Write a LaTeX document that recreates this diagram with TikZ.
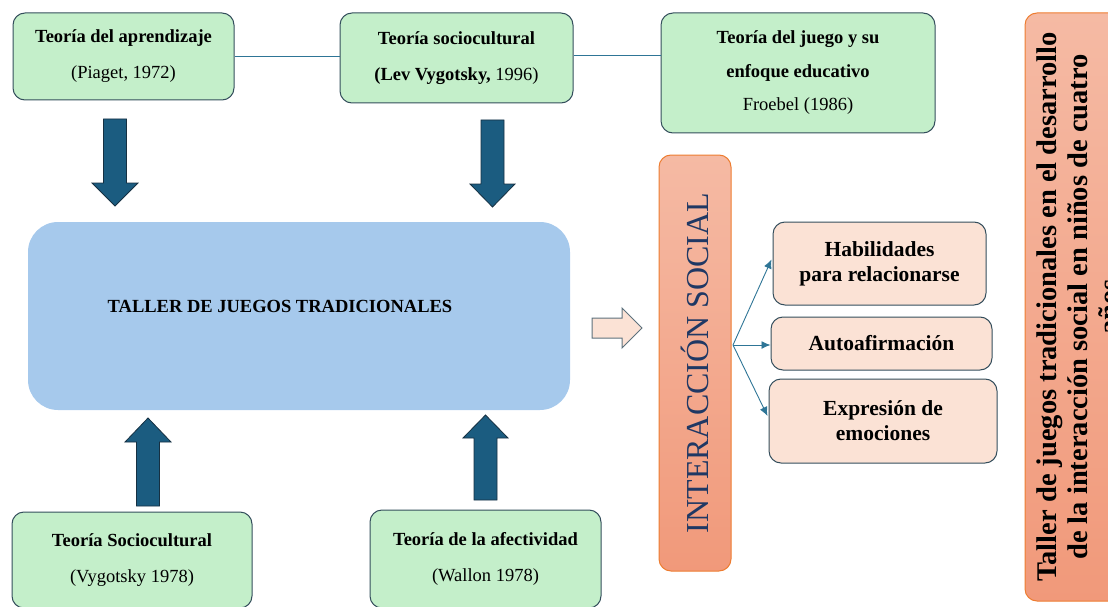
\documentclass[tikz,border=0pt]{standalone}
\usepackage{fontspec}
\setmainfont{Liberation Serif}
\usetikzlibrary{calc,arrows.meta}
\definecolor{gfill}{RGB}{196,239,202}
\definecolor{bdr}{RGB}{52,78,92}
\definecolor{bfill}{RGB}{166,201,236}
\definecolor{afill}{RGB}{27,92,128}
\definecolor{adraw}{RGB}{22,48,66}
\definecolor{pfill}{RGB}{251,226,213}
\definecolor{otop}{RGB}{245,186,164}
\definecolor{obot}{RGB}{241,153,122}
\definecolor{odraw}{RGB}{237,125,49}
\definecolor{navy}{RGB}{31,56,100}
\definecolor{lnk}{RGB}{46,117,150}
\begin{document}
\begin{tikzpicture}[x=1pt,y=-1pt,
  gbox/.style={draw=bdr, line width=1pt, fill=gfill, rounded corners=12pt, align=center, inner sep=0pt, font=\fontsize{18.5}{36}\selectfont},
  pbox/.style={draw=bdr, line width=1pt, fill=pfill, rounded corners=12pt, align=center, inner sep=0pt, font=\bfseries\fontsize{21.5}{25}\selectfont},
  obox/.style={draw=odraw, line width=1pt, top color=otop, bottom color=obot, rounded corners=12pt, inner sep=0pt},
  blockarrow/.style={fill=afill, draw=adraw, line width=0.8pt},
  hollow/.style={fill=pfill, draw=bdr!80, line width=1pt},
  link/.style={draw=lnk, line width=0.9pt},
  tiparrow/.style={draw=lnk, line width=0.9pt, -{Latex[length=9pt,width=8pt]}}
]
\useasboundingbox (0,0) rectangle (1108,607);
\clip (0,0) rectangle (1108,607);

% top boxes
\node[gbox, minimum width=221pt, minimum height=87pt] (b1) at (123.5,56.5)
  {\textbf{Teoría del aprendizaje}\\(Piaget, 1972)};
\node[gbox, minimum width=233pt, minimum height=90pt] (b2) at (456.5,58)
  {\textbf{Teoría sociocultural}\\\textbf{(Lev Vygotsky,} 1996)};
\node[gbox, minimum width=274pt, minimum height=120pt, font=\fontsize{18.5}{33.5}\selectfont] (b3) at (798,73)
  {\textbf{Teoría del juego y su}\\\textbf{enfoque educativo}\\Froebel (1986)};
\draw[link] (b1.east) -- (b1.east -| b2.west);
\coordinate (b2r) at ($(b2.east)+(0,-3)$);
\draw[link] (b2r) -- (b2r -| b3.west);

% main box
\node[fill=bfill, rounded corners=30pt, minimum width=542pt, minimum height=188pt, inner sep=0pt,
  font=\bfseries\fontsize{18.5}{22}\selectfont, text height=13pt, text depth=20pt] (main) at (299,316)
  {TALLER DE JUEGOS TRADICIONALES\hspace*{38pt}};

% bottom boxes
\node[gbox, minimum width=240pt, minimum height=96pt] (b4) at (132,560)
  {\textbf{Teoría Sociocultural}\\(Vygotsky 1978)};
\node[gbox, minimum width=231pt, minimum height=98pt] (b5) at (485.5,559)
  {\textbf{Teoría de la afectividad}\\(Wallon 1978)};

% block arrows down
\draw[blockarrow] (103.5,119) -- (126.5,119) -- (126.5,183) -- (138,183) -- (115,206) -- (92,183) -- (103.5,183) -- cycle;
\draw[blockarrow] (481,120) -- (504,120) -- (504,184) -- (515,184) -- (492.5,207) -- (470,184) -- (481,184) -- cycle;
% block arrows up
\draw[blockarrow] (136.5,506) -- (159.5,506) -- (159.5,442) -- (171,442) -- (148,418) -- (125,442) -- (136.5,442) -- cycle;
\draw[blockarrow] (474,500) -- (497,500) -- (497,438) -- (508,438) -- (485.5,415) -- (463,438) -- (474,438) -- cycle;

% hollow arrow
\draw[hollow] (592,318) -- (622,318) -- (622,308) -- (642,328) -- (622,348) -- (622,338) -- (592,338) -- cycle;

% interaccion social
\node[obox, minimum width=72pt, minimum height=416pt] (is) at (695,363)
  {\rotatebox{90}{\color{navy}\fontsize{32}{36}\selectfont INTERACCIÓN\ SOCIAL}};

% small boxes
\node[pbox, minimum width=213pt, minimum height=83pt] (hab) at (879.5,263.5)
  {Habilidades\\para relacionarse};
\node[pbox, minimum width=221pt, minimum height=53pt] (aut) at (881.5,343.5)
  {Autoafirmación};
\node[pbox, minimum width=228pt, minimum height=84pt] (exp) at (883,421)
  {Expresión de\\emociones};

\coordinate (src) at (733,345);
\draw[tiparrow] (src) -- ($(hab.west)+(-1,-4)$);
\draw[tiparrow] (src) -- (src -| aut.west);
\draw[tiparrow] (src) -- ($(exp.west)+(-1,-5)$);

% right title box
\node[obox, minimum width=106pt, minimum height=588pt] (title) at (1078,307)
  {\rotatebox{90}{\parbox{560pt}{\centering\bfseries\fontsize{28.5}{31}\selectfont
   Taller de juegos tradicionales en el desarrollo\\
   de la interacción social en niños de cuatro\\
   años}}};
\end{tikzpicture}
\end{document}
